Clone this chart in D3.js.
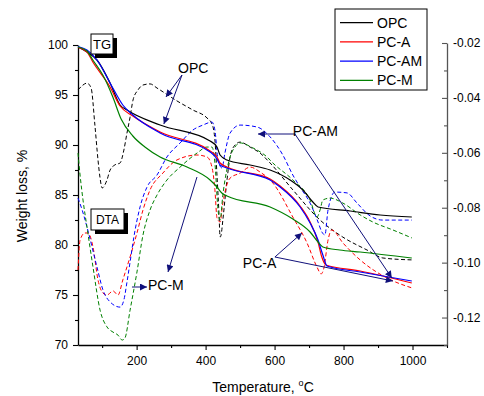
<!DOCTYPE html>
<html>
<head>
<meta charset="utf-8">
<script src="https://cdn.jsdelivr.net/npm/d3@7"></script>
<style>
  body { margin: 0; background: #fff; }
  svg { display: block; }
  text { font-family: "Liberation Sans", Arial, sans-serif; fill: #000; }
</style>
</head>
<body>
<svg id="chart" width="484" height="396"></svg>
<script>
// Series names and colours
const seriesNames = ["OPC", "PC-A", "PC-AM", "PC-M"];
const seriesColors = ["#000000", "#ff0000", "#0000ff", "#008000"];

// Thermogravimetric curves: [temperature °C, weight %]
const tgOPC = [[30,99.8],[56,99.3],[85,98.5],[123,96.2],[152,94.0],[172,93.5],[268,92.0],[413,90.4],[433,89.8],[442,89.0],[462,88.5],[529,88.0],[587,87.5],[645,86.5],[682,85.5],[711,84.3],[726,83.8],[819,83.4],[906,83.0],[998,82.8]];
const tgPCA = [[30,99.75],[56,99.3],[73,98.3],[123,95.8],[152,93.9],[189,92.9],[268,91.3],[413,89.4],[433,88.8],[442,88.2],[462,87.8],[587,86.6],[616,85.9],[674,83.9],[703,82.3],[726,80.3],[737,78.8],[749,78.0],[848,77.4],[998,76.2]];
const tgPCAM = [[30,99.85],[56,99.5],[85,98.5],[131,95.7],[160,94.0],[189,93.0],[268,91.2],[413,89.3],[433,88.6],[442,88.0],[462,87.7],[587,86.5],[616,85.8],[674,83.8],[703,82.2],[726,80.5],[740,79.0],[752,77.9],[848,77.3],[998,76.4]];
const tgPCM = [[30,99.8],[56,99.4],[73,98.5],[102,97.0],[131,94.8],[155,92.6],[189,90.9],[224,89.8],[268,88.8],[346,87.8],[413,86.5],[433,85.8],[447,85.2],[462,84.9],[587,83.8],[653,82.6],[703,81.3],[726,80.3],[740,79.8],[789,79.5],[848,79.3],[998,78.7]];

// Differential thermal curves: [temperature °C, DTA signal]
const dtaOPC = [[30,-0.0371],[44.5,-0.0353],[56,-0.0346],[68,-0.0364],[79,-0.0499],[88,-0.0626],[94,-0.0692],[100,-0.0728],[114,-0.0699],[123,-0.0663],[137,-0.0644],[152,-0.0637],[163,-0.0590],[172,-0.0528],[181,-0.0470],[189.5,-0.0408],[204,-0.0371],[218.5,-0.0353],[239,-0.0349],[259,-0.0364],[317,-0.0411],[363,-0.0444],[404,-0.0473],[418.5,-0.0495],[427,-0.0553],[433,-0.0681],[439,-0.0826],[442,-0.0907],[445,-0.0899],[450,-0.0845],[462,-0.0699],[471,-0.0615],[485,-0.0572],[500,-0.0561],[529,-0.0579],[558,-0.0601],[587,-0.0637],[653,-0.0735],[732,-0.0845],[798,-0.0907],[868,-0.0954],[914,-0.0983],[998,-0.0990]];
const dtaPCA = [[30,-0.1027],[36,-0.0918],[50,-0.0892],[59,-0.0892],[73.5,-0.0943],[88,-0.1063],[102.5,-0.1111],[114,-0.1118],[131.5,-0.1103],[146,-0.1118],[160,-0.1063],[181,-0.0979],[201,-0.0892],[218.5,-0.0808],[239,-0.0735],[276,-0.0674],[317,-0.0626],[375,-0.0608],[404,-0.0615],[418.5,-0.0652],[427,-0.0735],[433,-0.0837],[442,-0.0852],[450,-0.0783],[471,-0.0692],[500,-0.0674],[529,-0.0652],[558,-0.0670],[595,-0.0710],[653,-0.0834],[694,-0.0928],[723,-0.1016],[735,-0.1041],[743,-0.1020],[755,-0.0918],[766,-0.0881],[798,-0.0928],[848,-0.0990],[926,-0.1056],[998,-0.1092]];
const dtaPCAM = [[30,-0.0765],[42,-0.0808],[56,-0.0870],[85,-0.1016],[102.5,-0.1100],[123,-0.1143],[152,-0.1162],[163,-0.1136],[172,-0.1071],[181,-0.0998],[192,-0.0907],[210,-0.0797],[230,-0.0725],[259,-0.0681],[288,-0.0615],[326,-0.0564],[363,-0.0517],[392,-0.0499],[418.5,-0.0488],[427,-0.0517],[436,-0.0626],[447.5,-0.0655],[456,-0.0601],[471,-0.0528],[500,-0.0499],[549,-0.0506],[587,-0.0542],[624,-0.0608],[653,-0.0681],[674,-0.0725],[703,-0.0783],[726,-0.0852],[737,-0.0888],[746,-0.0899],[755,-0.0808],[775,-0.0743],[810,-0.0746],[839,-0.0783],[877,-0.0830],[914,-0.0845],[998,-0.0845]];
const dtaPCM = [[30,-0.0601],[36,-0.0681],[44.5,-0.0772],[56,-0.0870],[73.5,-0.1016],[94,-0.1173],[114,-0.1234],[131.5,-0.1253],[146,-0.1264],[158,-0.1282],[166,-0.1275],[181,-0.1173],[201,-0.1034],[218.5,-0.0899],[239,-0.0808],[259,-0.0754],[288,-0.0699],[326,-0.0652],[375,-0.0601],[404,-0.0579],[418.5,-0.0579],[427,-0.0637],[436,-0.0808],[442,-0.0845],[450,-0.0754],[471,-0.0615],[485,-0.0579],[500,-0.0564],[537,-0.0582],[578,-0.0615],[595,-0.0637],[653,-0.0699],[703,-0.0772],[723,-0.0834],[732,-0.0808],[740,-0.0772],[761,-0.0765],[798,-0.0783],[848,-0.0826],[885,-0.0852],[943,-0.0881],[998,-0.0910]];

// Axis ticks
const xTicks = [200, 400, 600, 800, 1000];
const xMinorTicks = [100, 300, 500, 700, 900, 1100];
const yLeftTicks = [70, 75, 80, 85, 90, 95, 100];
const yLeftMinorTicks = [72.5, 77.5, 82.5, 87.5, 92.5, 97.5];
const yRightTicks = [-0.12, -0.10, -0.08, -0.06, -0.04, -0.02];
const yRightMinorTicks = [-0.13, -0.11, -0.09, -0.07, -0.05, -0.03];

const svg = d3.select("#chart");

const x = d3.scaleLinear().domain([30, 1100]).range([78, 447]);
const yL = d3.scaleLinear().domain([70, 100]).range([345, 45]);
const yR = d3.scaleLinear().domain([-0.13, -0.02]).range([345, 43]);

// Axes
svg.append("g").attr("transform", "translate(0,345)")
  .call(d3.axisBottom(x).tickValues(xTicks).tickSize(5).tickPadding(6).tickSizeOuter(0)
    .tickFormat(d3.format("d")));
svg.append("g").attr("transform", "translate(0,345)")
  .call(d3.axisBottom(x).tickValues(xMinorTicks).tickSize(3).tickFormat("").tickSizeOuter(0))
  .select(".domain").remove();

svg.append("g").attr("transform", "translate(78,0)")
  .call(d3.axisLeft(yL).tickValues(yLeftTicks).tickSize(5).tickPadding(5).tickSizeOuter(0));
svg.append("g").attr("transform", "translate(78,0)")
  .call(d3.axisLeft(yL).tickValues(yLeftMinorTicks).tickSize(3).tickFormat("").tickSizeOuter(0))
  .select(".domain").remove();

const fmtRight = d => d3.format(".2f")(d).replace("\u2212", "-");
const gyr = svg.append("g").attr("transform", "translate(447,0)")
  .call(d3.axisRight(yR).tickValues(yRightTicks).tickSize(-5).tickPadding(6).tickSizeOuter(0)
    .tickFormat(fmtRight));
const gyrMinor = svg.append("g").attr("transform", "translate(447,0)")
  .call(d3.axisRight(yR).tickValues(yRightMinorTicks).tickSize(-3).tickFormat("").tickSizeOuter(0));
gyrMinor.select(".domain").remove();

svg.selectAll(".tick text").attr("font-size", 12).attr("font-family", "Liberation Sans, Arial, sans-serif").attr("fill", "#000");
svg.selectAll(".domain").attr("stroke", "#000").attr("stroke-width", 1.3);
svg.selectAll(".tick line").attr("stroke", "#000").attr("stroke-width", 1.1);
gyr.select(".domain").attr("stroke", "#555");
gyr.selectAll(".tick line").attr("stroke", "#555");
gyrMinor.selectAll(".tick line").attr("stroke", "#555");

// Axis titles
svg.append("text")
  .attr("transform", "translate(27,196) rotate(-90)")
  .attr("text-anchor", "middle").attr("font-size", 14)
  .text("Weight loss, %");

const xt = svg.append("text").attr("x", 263).attr("y", 392)
  .attr("text-anchor", "middle").attr("font-size", 14);
xt.append("tspan").text("Temperature, ");
xt.append("tspan").attr("font-size", 9).attr("dy", -6).text("o");
xt.append("tspan").attr("dy", 6).text("C");

// Curves
const tgLine = d3.line().x(d => x(d[0])).y(d => yL(d[1])).curve(d3.curveMonotoneX);
const dtaLine = d3.line().x(d => x(d[0])).y(d => yR(d[1])).curve(d3.curveMonotoneX);

const dtaSets = [dtaOPC, dtaPCA, dtaPCAM, dtaPCM];
const tgSets = [tgOPC, tgPCA, tgPCAM, tgPCM];

dtaSets.forEach((s, i) => {
  svg.append("path").datum(s).attr("d", dtaLine)
    .attr("fill", "none").attr("stroke", seriesColors[i])
    .attr("stroke-width", 1).attr("stroke-dasharray", "4,2.5");
});
tgSets.forEach((s, i) => {
  svg.append("path").datum(s).attr("d", tgLine)
    .attr("fill", "none").attr("stroke", seriesColors[i])
    .attr("stroke-width", 1.2);
});

// Annotations (positions in temperature / weight units)
const navy = "#10107a";
const defs = svg.append("defs");
defs.append("marker").attr("id", "arrow")
  .attr("viewBox", "0 0 10 10").attr("refX", 10).attr("refY", 5)
  .attr("markerWidth", 8).attr("markerHeight", 7).attr("markerUnits", "userSpaceOnUse")
  .attr("orient", "auto")
  .append("path").attr("d", "M0,0 L10,5 L0,10 z").attr("fill", navy);

const arrows = [
  [[331.5, 97.0], [285, 94.8]],
  [[331.5, 97.0], [279, 92.1]],
  [[659, 91.1], [552, 91.1]],
  [[659, 91.1], [940, 76.7]],
  [[601, 78.8], [679.5, 81.2]],
  [[601, 78.8], [943, 76.4]],
  [[186.5, 75.8], [230, 75.8]],
  [[375, 86.8], [291, 77.3]]
];
arrows.forEach(a => {
  svg.append("line")
    .attr("x1", x(a[0][0])).attr("y1", yL(a[0][1]))
    .attr("x2", x(a[1][0])).attr("y2", yL(a[1][1]))
    .attr("stroke", navy).attr("stroke-width", 1)
    .attr("marker-end", "url(#arrow)");
});

const notes = [
  ["OPC", 320, 97.7],
  ["PC-AM", 653, 91.4],
  ["PC-A", 508, 78.2],
  ["PC-M", 233, 76.0]
];
notes.forEach(n => {
  svg.append("text").attr("x", x(n[1])).attr("y", yL(n[2]))
    .attr("dy", "0.35em").attr("font-size", 14).text(n[0]);
});

// Boxed panel tags
const tags = [
  ["TG", 67.7, 101.1, 22, 20, 4, 13],
  ["DTA", 67.7, 83.6, 33, 21, 4, 12]
];
tags.forEach(t => {
  const bx = x(t[1]), by = yL(t[2]);
  svg.append("rect").attr("x", bx + t[5]).attr("y", by + t[5])
    .attr("width", t[3]).attr("height", t[4]).attr("fill", "#000");
  svg.append("rect").attr("x", bx).attr("y", by)
    .attr("width", t[3]).attr("height", t[4])
    .attr("fill", "#fff").attr("stroke", "#000").attr("stroke-width", 1);
  svg.append("text").attr("x", bx + t[3] / 2).attr("y", by + t[4] / 2)
    .attr("dy", "0.35em").attr("text-anchor", "middle").attr("font-size", t[6]).text(t[0]);
});

// Legend
const legend = svg.append("g");
legend.append("rect").attr("x", 335).attr("y", 9).attr("width", 92).attr("height", 81)
  .attr("fill", "#fff").attr("stroke", "#000").attr("stroke-width", 1);
seriesNames.forEach((name, i) => {
  const ly = 22.7 + i * 19.2;
  legend.append("line").attr("x1", 340).attr("x2", 373).attr("y1", ly).attr("y2", ly)
    .attr("stroke", seriesColors[i]).attr("stroke-width", 1.2);
  legend.append("text").attr("x", 377).attr("y", ly).attr("dy", "0.35em")
    .attr("font-size", 14).text(name);
});
</script>
</body>
</html>
